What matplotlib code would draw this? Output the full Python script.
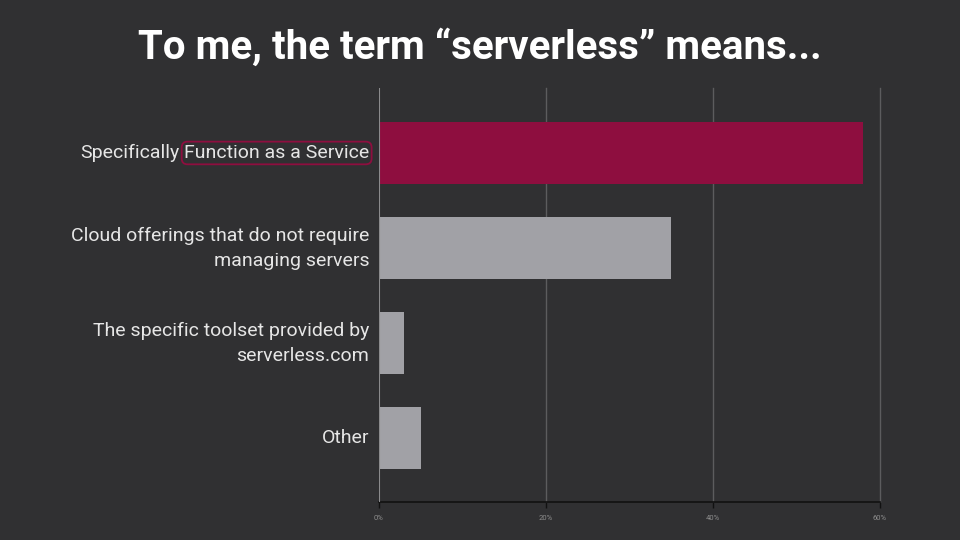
#!/usr/bin/env python3
# -*- coding: UTF-8 -*-
import matplotlib

matplotlib.use('agg')
import matplotlib.pyplot as plt
from matplotlib.transforms import offset_copy

categories = ['Specifically Function as a Service',
              'Cloud offerings that do not require\nmanaging servers',
              'The specific toolset provided by\nserverless.com',
              'Other']
values = [58, 35, 3, 5]
xticks = [0, 20, 40, 60]
xticklabels = ['0%', '20%', '40%', '60%']
title = 'To me, the term \u201cserverless\u201d means...'

bg = '#303032'
colors = ['#8e0e3f', '#a1a1a6', '#a1a1a6', '#a1a1a6']
lab_color = '#e6e6e6'

plt.rcParams['font.family'] = ['Roboto', 'DejaVu Sans']

fig = plt.figure(figsize=(9.6, 5.4), dpi=100, facecolor=bg)
ax = fig.add_axes([379 / 960, 38 / 540, 501 / 960, 414 / 540], facecolor=bg)

pos = list(range(len(categories)))
ax.barh(pos, values, height=0.65, color=colors, zorder=3)
ax.set_xlim(0, 60)
ax.set_ylim(3.674, -0.684)

# gridlines
for x in xticks[1:]:
    ax.axvline(x, color='#5c5c5e', lw=1, zorder=1, clip_on=False)
ax.axvline(0, color='#8a8a8c', lw=1.5, zorder=4)

for s in ['top', 'right', 'left']:
    ax.spines[s].set_visible(False)
ax.spines['bottom'].set_color('#111111')
ax.spines['bottom'].set_linewidth(1.2)
ax.set_xticks(xticks)
ax.set_xticklabels(xticklabels)
ax.tick_params(axis='x', colors='#111111', length=4, width=1,
               labelsize=5.5, labelcolor='#8c8c8c', pad=5)

# y labels drawn by hand (first one has a boxed part)
ax.set_yticks([])
tr = offset_copy(ax.transData, fig=fig, x=-7, y=0, units='points')
boxed = ax.text(0, 0, 'Function as a Service', transform=tr, ha='right', va='center',
                fontsize=14, color=lab_color,
                bbox=dict(boxstyle='round,pad=0.12,rounding_size=0.3',
                          fc='none', ec='#8e0e3f', lw=1.3))
for i in pos[1:]:
    ax.text(0, i, categories[i], transform=tr, ha='right', va='center',
            fontsize=14, color=lab_color, linespacing=1.5)

fig.canvas.draw()
bb = boxed.get_window_extent()
yc = (bb.y0 + bb.y1) / 2
fig.text(bb.x0 - 5, yc, 'Specifically', transform=None, ha='right', va='center',
         fontsize=14, color=lab_color)

fig.text(0.5, 1 - 47 / 540, title, ha='center', va='center', fontsize=29,
         fontweight='bold', color='white')

fig.savefig('out.png', dpi=100, facecolor=bg)
